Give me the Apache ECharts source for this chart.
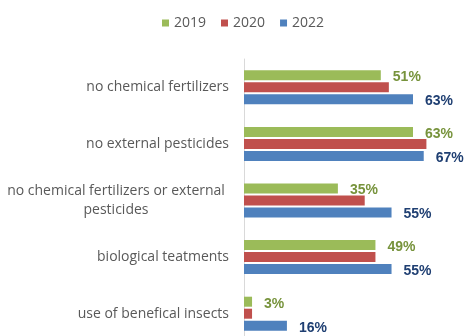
<!DOCTYPE html>
<html><head><meta charset="utf-8">
<script src="https://cdn.jsdelivr.net/npm/echarts@6/dist/echarts.min.js"></script>
<style>html,body{margin:0;padding:0;background:#fff;overflow:hidden}#c{width:467px;height:350px}</style>
</head><body><div id="c"></div>
<script>
const categories = ["no chemical fertilizers", "no external pesticides", "no chemical fertilizers or external pesticides", "biological teatments", "use of benefical insects"];
const years = ["2019", "2020", "2022"];
const v2019 = [51, 63, 35, 49, 3];
const v2020 = [54, 68, 45, 49, 3];
const v2022 = [63, 67, 55, 55, 16];
const barColors = ["#9bbb59", "#c0504d", "#4f81bd"];
const labelColors = ["#77933c", null, "#1f3f72"];

const chart = echarts.init(document.getElementById('c'));
const font = "'Liberation Sans', Arial, sans-serif";
const catFont = "'Open Sans', sans-serif";
function mkSeries(name, data, i) {
  return {
    name: name, type: 'bar', data: data, barWidth: 10, barGap: '20%', barCategoryGap: '40%',
    itemStyle: {color: barColors[i]},
    label: labelColors[i] ? {show: true, position: 'right', distance: 12, formatter: '{c}%',
      color: labelColors[i], fontWeight: 'bold', fontSize: 14, fontFamily: font, offset: [0, 2]} : {show: false}
  };
}
chart.setOption({
  animation: false,
  legend: {top: 11, left: 157, itemWidth: 7, itemHeight: 7, itemGap: 15, icon: 'rect',
    textStyle: {color: '#595959', fontSize: 14, fontFamily: catFont}},
  grid: {left: 242, top: 59, width: 216.6, height: 283, containLabel: false},
  xAxis: {type: 'value', min: 0, max: 80, show: false},
  yAxis: {type: 'category', data: categories, inverse: true,
    axisLine: {show: true, lineStyle: {color: '#d9d9d9', width: 1}},
    axisTick: {show: false},
    axisLabel: {color: '#595959', fontSize: 14, fontFamily: catFont, margin: 15, lineHeight: 19,
      formatter: function (v) {
        if (v.length > 30) {
          return '{c|no chemical fertilizers or external}\n{c|pesticides}';
        }
        return v;
      },
      rich: {c: {width: 226, align: 'center', color: '#595959', fontSize: 14, fontFamily: catFont, lineHeight: 19}}
    }
  },
  series: [mkSeries(years[0], v2019, 0), mkSeries(years[1], v2020, 1), mkSeries(years[2], v2022, 2)]
});
</script></body></html>
